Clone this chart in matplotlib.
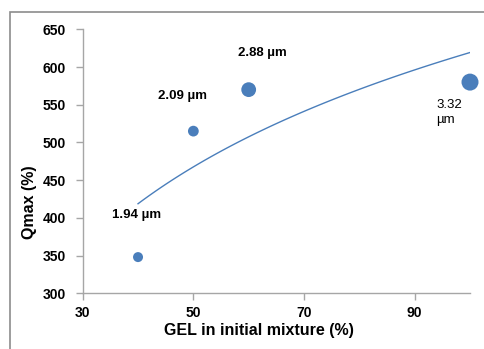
import numpy as np
import matplotlib
matplotlib.use("Agg")
import matplotlib.pyplot as plt
from matplotlib.patches import Rectangle

plt.rcParams['font.family'] = ['Liberation Sans', 'DejaVu Sans']

# data
gel = [40, 50, 60, 100]
qmax = [348, 515, 570, 580]
size_um = [1.94, 2.09, 2.88, 3.32]
labels = ["1.94 µm", "2.09 µm", "2.88 µm", "3.32\nµm"]
label_x = [39.8, 48.1, 62.4, 93.9]
label_y = [404, 561, 618, 540]

blue = '#4a7ebb'
grey = '#a6a6a6'

fig = plt.figure(figsize=(4.85, 3.49), dpi=100)
ax = fig.add_axes([82.7/485, 1-293.3/349, (470-82.7)/485, (293.3-29.3)/349])

# outer chart frame (runs off the right and bottom edge)
fig.patches.append(Rectangle((10/485, -0.1), 1.2, 1-12/349+0.1, transform=fig.transFigure,
                             fill=False, edgecolor='#8c8c8c', lw=1.2))

# bubble diameter in px grows with particle size
diam_px = [10 + (v - min(size_um)) * 5.07 for v in size_um]
s = [(d*0.72)**2 for d in diam_px]
ax.scatter(gel, qmax, s=s, color=blue, zorder=3, clip_on=False, edgecolors='none')

# logarithmic trend line
a, b = np.polyfit(np.log(gel), qmax, 1)
xs = np.linspace(min(gel), max(gel), 100)
ax.plot(xs, a*np.log(xs) + b, color=blue, lw=1.0, zorder=2)

for i, t in enumerate(labels):
    if i == 3:
        ax.text(label_x[i], label_y[i], t, ha='left', va='center', fontsize=9.5, linespacing=1.3)
    else:
        ax.text(label_x[i], label_y[i], t, ha='center', va='center', fontsize=9.5, fontweight='bold')

ax.set_xlim(30, 100)
ax.set_ylim(300, 650)
ax.set_xticks([30, 50, 70, 90])
ax.set_yticks(range(300, 651, 50))
ax.tick_params(axis='both', labelsize=10, colors=grey, labelcolor='black', length=5, width=1)
ax.tick_params(axis='x', pad=4)
ax.tick_params(axis='y', pad=7)
for lab in ax.get_xticklabels() + ax.get_yticklabels():
    lab.set_fontweight('bold')
for side in ['top', 'right']:
    ax.spines[side].set_visible(False)
for side in ['left', 'bottom']:
    ax.spines[side].set_color(grey)
    ax.spines[side].set_linewidth(1)

fig.text(259/485, 1-331/349, "GEL in initial mixture (%)", ha='center', va='center',
         fontsize=11.5, fontweight='bold')
fig.text(30/485, 1-202/349, "Qmax (%)", ha='center', va='center', rotation=90,
         fontsize=11.5, fontweight='bold')

fig.savefig('out.png', dpi=100)
